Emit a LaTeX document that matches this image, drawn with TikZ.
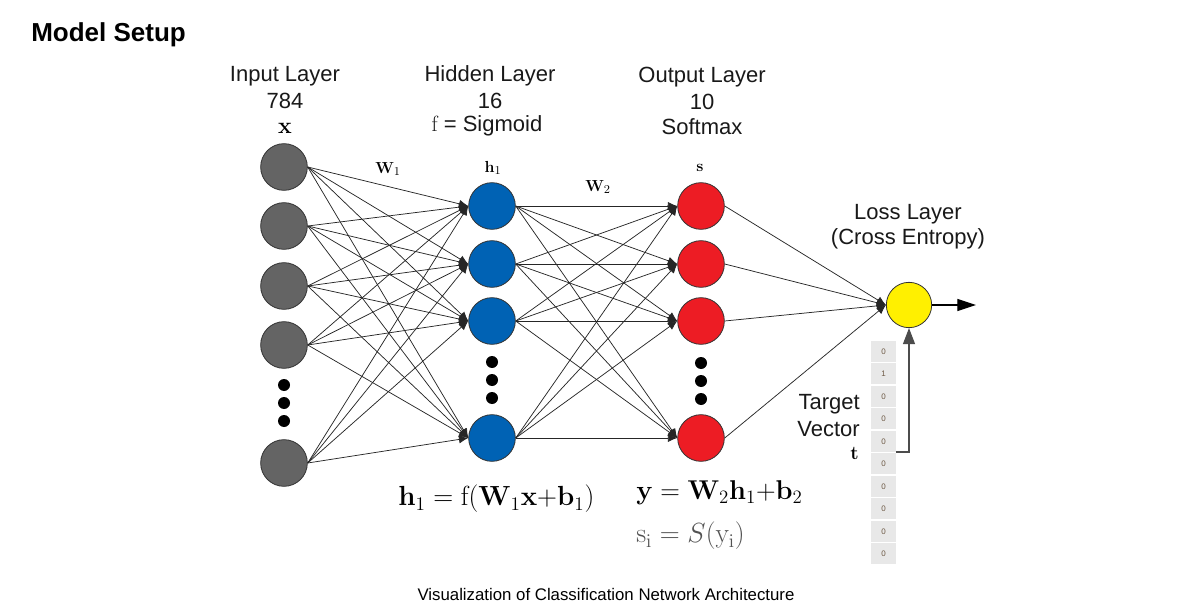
\documentclass[tikz,border=0pt]{standalone}
\usepackage[no-math]{fontspec}
\newfontfamily\sans{Liberation Sans}
\usetikzlibrary{arrows.meta}
\definecolor{ngray}{RGB}{100,100,100}
\definecolor{nblue}{RGB}{0,98,180}
\definecolor{nred}{RGB}{237,28,36}
\definecolor{nyellow}{RGB}{255,240,0}
\definecolor{cellgray}{RGB}{232,232,232}
\definecolor{txt}{RGB}{25,25,25}
\definecolor{celltxt}{RGB}{110,90,70}
\begin{document}
\begin{tikzpicture}[x=0.75pt,y=-0.75pt,
  neuron/.style={circle,draw=black!80,line width=0.6pt,minimum size=35pt,inner sep=0pt},
  inp/.style={neuron,fill=ngray},
  hid/.style={neuron,fill=nblue},
  outn/.style={neuron,fill=nred},
  lossn/.style={neuron,fill=nyellow,minimum size=34pt},
  bigdot/.style={circle,fill=black,minimum size=9pt,inner sep=0pt},
  conn/.style={draw=black!85,line width=0.55pt,-{Latex[length=7pt,width=6pt]}},
  lbl/.style={font=\sans\fontsize{16.5}{19}\selectfont,text=txt,inner sep=0pt},
  sym/.style={font=\fontsize{13}{15}\selectfont,inner sep=0pt},
  eq/.style={font=\fontsize{17.28}{20}\selectfont,inner sep=0pt,anchor=west},
  cell/.style={fill=cellgray,minimum width=18.5pt,minimum height=15.4pt,inner sep=0pt,
    font=\sans\fontsize{6}{6}\selectfont,text=celltxt}
]
\useasboundingbox[fill=white] (0,0) rectangle (1194,616);

% title and caption
\node[font=\sans\bfseries\fontsize{19.5}{22}\selectfont,anchor=west,inner sep=0pt] (title) at (31,35) {Model Setup};
\node[font=\sans\fontsize{12.6}{14}\selectfont,inner sep=0pt] (caption) at (606,594) {Visualization of Classification Network Architecture};

% layer labels
\node[lbl] (il1) at (285,76) {Input Layer};
\node[lbl] (il2) at (285,101) {784};
\node[sym,font=\fontsize{16}{18}\selectfont] (il3) at (285,128) {$\mathbf{x}$};
\node[lbl] (hl1) at (490,76) {Hidden Layer};
\node[lbl] (hl2) at (490,101) {16};
\node[lbl] (hl3) at (487,126) {{\rmfamily f} = Sigmoid};
\node[lbl] (ol1) at (702,77) {Output Layer};
\node[lbl] (ol2) at (702,102) {10};
\node[lbl] (ol3) at (702,127) {Softmax};
\node[lbl] (ll1) at (908,214) {Loss Layer};
\node[lbl] (ll2) at (908,239) {(Cross Entropy)};

% input layer
\node[inp] (in1) at (284,167) {};
\node[inp] (in2) at (284,226) {};
\node[inp] (in3) at (284,286) {};
\node[inp] (in4) at (284,345) {};
\node[inp] (in5) at (284,463) {};
\node[bigdot] (id1) at (284,385) {};
\node[bigdot] (id2) at (284,403) {};
\node[bigdot] (id3) at (284,421) {};

% hidden layer
\node[hid] (h1) at (492,206) {};
\node[hid] (h2) at (492,264) {};
\node[hid] (h3) at (492,321) {};
\node[hid] (h4) at (492,438) {};
\node[bigdot] (hd1) at (492,362) {};
\node[bigdot] (hd2) at (492,380) {};
\node[bigdot] (hd3) at (492,398) {};

% output layer
\node[outn] (o1) at (701,206) {};
\node[outn] (o2) at (701,264) {};
\node[outn] (o3) at (701,321) {};
\node[outn] (o4) at (701,438) {};
\node[bigdot] (od1) at (701,363) {};
\node[bigdot] (od2) at (701,381) {};
\node[bigdot] (od3) at (701,399) {};

% loss
\node[lossn] (loss) at (909,305) {};

% weights / symbols
\node[sym] (w1) at (388,169) {$\mathbf{W}_{1}$};
\node[sym] (hs) at (493,168) {$\mathbf{h}_{1}$};
\node[sym] (w2) at (598,187) {$\mathbf{W}_{2}$};
\node[sym] (ss) at (700,168) {$\mathbf{s}$};

% connections
\foreach \i in {1,...,5}
  \foreach \j in {1,...,4}
    \draw[conn] (in\i.east) -- (h\j.west);
\foreach \i in {1,...,4}
  \foreach \j in {1,...,4}
    \draw[conn] (h\i.east) -- (o\j.west);
\foreach \j in {1,...,4}
  \draw[conn] (o\j.east) -- (loss.west);

\coordinate (lossout) at (976,305);
\draw[black,line width=0.8pt,-{Triangle[length=14pt,width=9pt]}] (loss.east) -- (lossout);

% target vector
\foreach \k/\v in {0/0,1/1,2/0,3/0,4/0,5/0,6/0,7/0,8/0,9/0}
  \node[cell] (t\k) at (883.5,351.25+22.5*\k) {\v};
\coordinate (tstart) at (896,452);
\draw[black!70,line width=0.8pt,-{Triangle[length=12pt,width=9pt]}] (tstart) -| (loss.south);

\node[lbl,anchor=east] (tg1) at (860,404) {Target};
\node[lbl,anchor=east] (tg2) at (860,429) {Vector};
\node[sym,anchor=east,font=\fontsize{15}{17}\selectfont] (tg3) at (859,453) {$\mathbf{t}$};

% equations
\node[eq] (eq1) at (398,499) {\scalebox{1.2}{$\mathbf{h}_{1} = \mathrm{f}(\mathbf{W}_{1}\mathbf{x}{+}\mathbf{b}_{1})$}};
\node[eq] (eq2) at (636,493) {\scalebox{1.18}{$\mathbf{y} = \mathbf{W}_{2}\mathbf{h}_{1}{+}\mathbf{b}_{2}$}};
\node[eq,text=black!68] (eq3) at (636,536) {\scalebox{1.2}{$\mathrm{s}_{\mathrm{i}} = S(\mathrm{y}_{\mathrm{i}})$}};
\end{tikzpicture}
\end{document}
